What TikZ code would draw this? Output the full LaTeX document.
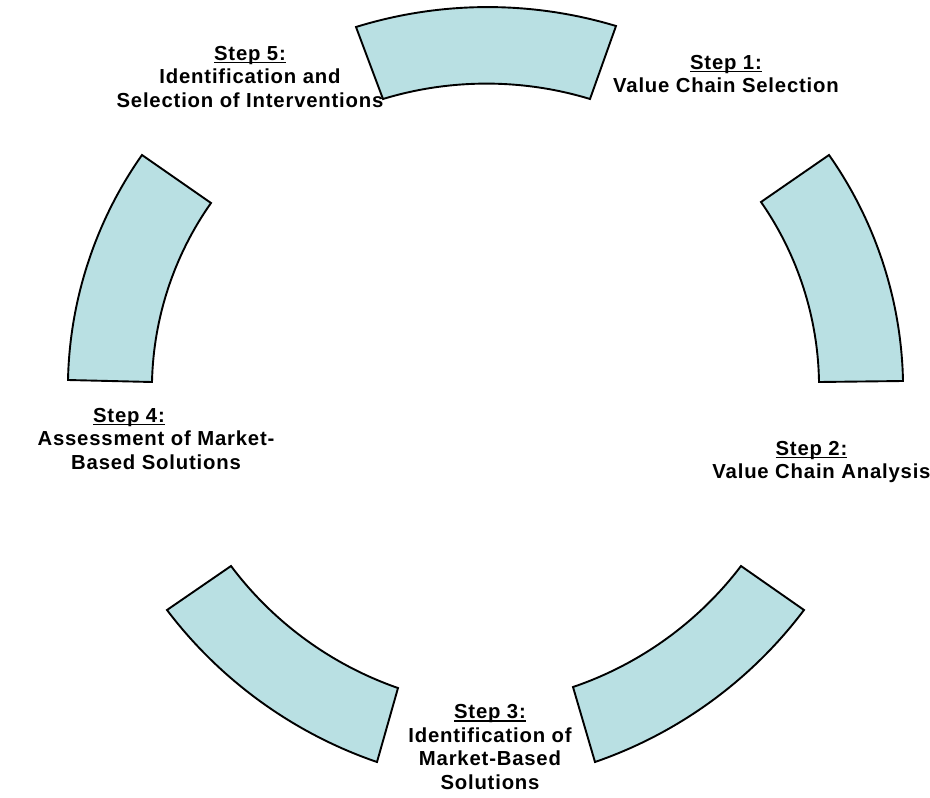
\documentclass[tikz,border=0pt]{standalone}
\usepackage{fontspec}
\setmainfont{Liberation Sans}[LetterSpace=4]
\usepackage{xcolor}
\usepackage{tikz}

\definecolor{blockfill}{RGB}{185,224,227}
% underline set just under the baseline
\newcommand{\stepul}[1]{\setbox0\hbox{#1}\rlap{\rule[-3pt]{\wd0}{1.7pt}}\box0}

\begin{document}
\begin{tikzpicture}[x=1pt, y=-1pt,
  block/.style={draw=black, line width=1.9pt, fill=blockfill, line join=miter},
  outerarc/.style={bend left=17, looseness=0.87},
  innerarc/.style={bend right=17, looseness=0.87},
  steplabel/.style={align=center, inner sep=0pt,
    font=\bfseries\fontsize{20.3}{23.5}\selectfont}]
\useasboundingbox (0,0) rectangle (930,798);

% Top block
\draw[block] (356,27) to[outerarc] (616,26) -- (590,99) to[innerarc] (383,99) -- cycle;

% Right block
\draw[block] (829,155) to[outerarc] (903,381) -- (819,382) to[innerarc] (761,202) -- cycle;

% Lower right block
\draw[block] (804,610) to[outerarc] (595,762) -- (573,687) to[innerarc] (741,566) -- cycle;

% Lower left block
\draw[block] (377,762) to[outerarc] (167,610) -- (231,566) to[innerarc] (398,688) -- cycle;

% Left block
\draw[block] (68,380) to[outerarc] (142,155) -- (211,203) to[innerarc] (152,382) -- cycle;

% Step labels
\node[steplabel] (step1) at (726,74) {\stepul{Step 1:}\\Value Chain Selection};
\node[steplabel] (step2) at (821.5,462) {\stepul{Step 2:}\hspace*{20pt}\\Value Chain Analysis};
\node[steplabel] (step3) at (490,747) {\stepul{Step 3:}\\Identification of\\Market-Based\\Solutions};
\node[steplabel] (step4) at (156,439) {\stepul{Step 4:}\hspace*{54pt}\\Assessment of Market-\\Based Solutions};
\node[steplabel] (step5) at (250,77) {\stepul{Step 5:}\\Identification and\\Selection of Interventions};
\end{tikzpicture}
\end{document}
